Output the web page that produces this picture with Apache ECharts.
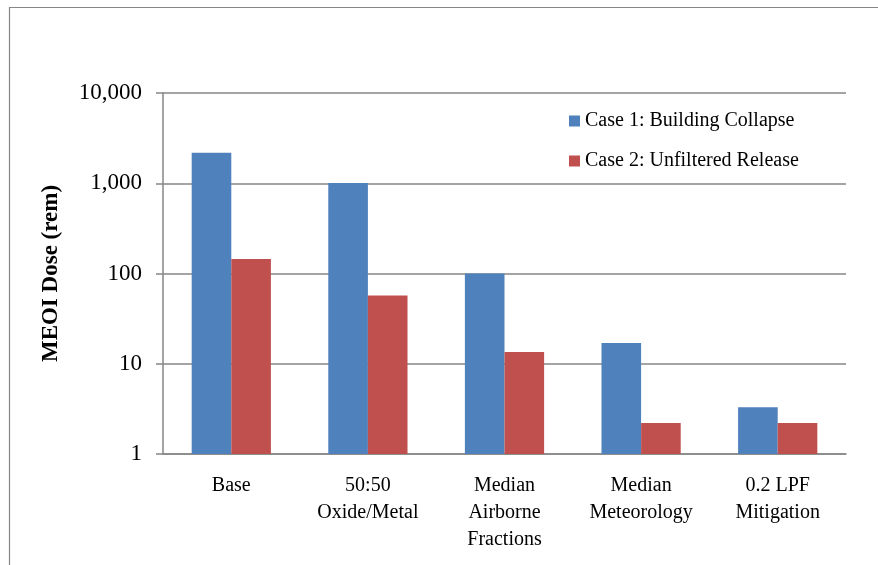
<!DOCTYPE html>
<html>
<head>
<meta charset="utf-8">
<script src="https://cdn.jsdelivr.net/npm/echarts@6/dist/echarts.min.js"></script>
<style>
html,body{margin:0;padding:0;background:#fff;}
#c{width:878px;height:565px;}
</style>
</head>
<body>
<div id="c"></div>
<script>
const categories = ['Base', '50:50\nOxide/Metal', 'Median\nAirborne\nFractions', 'Median\nMeteorology', '0.2 LPF\nMitigation'];
const case1 = [2180, 1005, 100, 17, 3.3];
const case2 = [145, 57, 13.5, 2.2, 2.2];
const seriesNames = ['Case 1: Building Collapse', 'Case 2: Unfiltered Release'];
const yTicks = [1, 10, 100, 1000, 10000];

const font = 'Liberation Serif, Times New Roman, serif';
const chart = echarts.init(document.getElementById('c'));
chart.setOption({
  animation: false,
  backgroundColor: '#fff',
  graphic: [{
    type: 'rect', left: 7, top: 5, silent: true,
    shape: {x: 0, y: 0, width: 900, height: 600},
    style: {fill: 'none', stroke: '#868686', lineWidth: 1.2}
  }],
  grid: {left: 163, right: 32, top: 93, bottom: 111, containLabel: false},
  legend: {
    orient: 'vertical', left: 564, top: 106,
    itemWidth: 11, itemHeight: 11, itemGap: 20,
    icon: 'rect',
    textStyle: {fontFamily: font, fontSize: 20, color: '#000', lineHeight: 20},
    data: seriesNames
  },
  xAxis: {
    type: 'category', data: categories,
    axisLine: {lineStyle: {color: '#868686', width: 1.5}},
    axisTick: {show: false},
    axisLabel: {color: '#000', fontFamily: font, fontSize: 20, lineHeight: 27, margin: 18, interval: 0}
  },
  yAxis: {
    type: 'log', logBase: 10, min: 1, max: 10000,
    name: 'MEOI Dose (rem)', nameLocation: 'middle', nameRotate: 90, nameGap: 100,
    nameTextStyle: {fontFamily: font, fontSize: 23, fontWeight: 'bold', color: '#000'},
    axisLine: {show: true, lineStyle: {color: '#868686', width: 1.5}},
    axisTick: {show: true, inside: false, length: 7, lineStyle: {color: '#868686', width: 1.5}},
    splitLine: {show: true, lineStyle: {color: '#868686', width: 1.5}},
    minorTick: {show: false},
    axisLabel: {color: '#000', fontFamily: font, fontSize: 23, margin: 21,
      formatter: v => Number(v).toLocaleString('en-US')}
  },
  series: [
    {name: seriesNames[0], type: 'bar', data: case1, barGap: '0%', barCategoryGap: '42%',
     itemStyle: {color: '#4F81BD'}},
    {name: seriesNames[1], type: 'bar', data: case2, barGap: '0%', barCategoryGap: '42%',
     itemStyle: {color: '#C0504D'}}
  ]
});
</script>
</body>
</html>
